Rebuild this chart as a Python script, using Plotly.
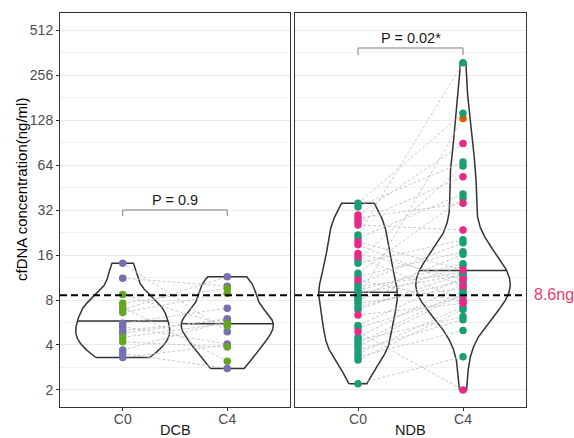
import numpy as np
import plotly.graph_objects as go

# ---- data -------------------------------------------------------------
timepoints = ["C0", "C4"]
panels = ["DCB", "NDB"]

# DCB patients: cfDNA (ng/ml) at C0 and C4, plus subgroup
dcb_c0 = [14.1, 11.2, 6.9, 5.6, 5.3, 5.0, 4.8, 3.7, 3.5, 3.3,
          8.7, 7.6, 7.2, 6.6, 4.5, 4.2]
dcb_c4 = [4.9, 9.9, 11.45, 7.04, 4.06, 5.88, 6.0, 5.8, 2.79, 4.0,
          5.35, 9.58, 3.11, 8.87, 5.59, 3.88]
dcb_grp = ["a"] * 10 + ["b"] * 6

# NDB patients
ndb_c0 = [8.2,
          35.5, 33.7, 21.8, 20.7, 14.8, 14.1, 12.1, 11.5, 10.3, 9.8,
          9.3, 8.9, 8.4, 8.0, 7.6, 7.2, 6.9, 5.4, 5.2, 4.5,
          4.3, 4.1, 3.9, 3.7, 3.5, 3.34, 3.17, 2.2,
          29.6, 28.2, 26.7, 25.4, 19.6, 18.7, 16.4, 15.6, 10.9, 6.35, 4.9]
ndb_c4 = [131,
          142, 67, 309, 41, 63, 20.2, 38.3, 16.8, 19.3, 12.2,
          14.0, 11.8, 16.2, 13.5, 9.6, 10.8, 12.0, 11.3, 8.5, 10.3,
          6.2, 9.2, 8.8, 5.9, 7.2, 5.0, 6.9, 3.34,
          89, 35.5, 53.5, 23.5, 12.7, 9.9, 11.0, 8.0, 7.8, 7.6, 2.0]
ndb_grp = ["e"] + ["c"] * 28 + ["d"] * 11

group_colors = {"a": "#7570B3", "b": "#66A61E", "c": "#1B9E77",
                "d": "#E7298A", "e": "#D95F02"}

p_labels = ["P = 0.9", "P = 0.02*"]
p_bracket = [(32, 29.2), (388, 348)]   # bracket height, tick end (ng/ml)
cutoff = 8.6
cutoff_label = "8.6ng"

y_ticks = [2, 4, 8, 16, 32, 64, 128, 256, 512]

# ---- helpers ----------------------------------------------------------
def bw_nrd0(x):
    x = np.asarray(x, float)
    sd = np.std(x, ddof=1)
    q75, q25 = np.percentile(x, [75, 25])
    lo = min(sd, (q75 - q25) / 1.34)
    if lo == 0:
        lo = sd or abs(x[0]) or 1.0
    return 0.9 * lo * len(x) ** (-0.2)


def kde(vals, n=512):
    z = np.log2(np.asarray(vals, float))
    bw = bw_nrd0(z)
    grid = np.linspace(z.min(), z.max(), n)
    d = np.exp(-0.5 * ((grid[:, None] - z[None, :]) / bw) ** 2).sum(1)
    d /= len(z) * bw * np.sqrt(2 * np.pi)
    return grid, d


fig = go.Figure()
axes = [("x", "y"), ("x2", "y2")]
datasets = [(dcb_c0, dcb_c4, dcb_grp), (ndb_c0, ndb_c4, ndb_grp)]
outline = "#333333"
width = 0.9

for (xa, ya), (c0, c4, grp) in zip(axes, datasets):
    dens = [kde(c0), kde(c4)]
    dmax = max(d.max() for _, d in dens)
    for pos, (grid, d) in zip([1, 2], dens):
        half = d / dmax * width / 2
        yy = 2 ** grid
        xs = np.concatenate([pos - half, (pos + half)[::-1], [pos - half[0]]])
        ys = np.concatenate([yy, yy[::-1], [yy[0]]])
        fig.add_trace(go.Scatter(x=xs, y=ys, mode="lines", xaxis=xa, yaxis=ya,
                                 line=dict(color=outline, width=1.5),
                                 hoverinfo="skip", showlegend=False))
        # median from the density's cumulative distribution
        cdf = np.cumsum(d) / d.sum()
        qy = np.interp(0.5, cdf, grid)
        qh = np.interp(qy, grid, half)
        fig.add_trace(go.Scatter(x=[pos - qh, pos + qh], y=[2 ** qy] * 2,
                                 mode="lines", xaxis=xa, yaxis=ya,
                                 line=dict(color=outline, width=1.5),
                                 hoverinfo="skip", showlegend=False))
    # paired patient lines
    lx, ly = [], []
    for a, b in zip(c0, c4):
        lx += [1, 2, None]
        ly += [a, b, None]
    fig.add_trace(go.Scatter(x=lx, y=ly, mode="lines", xaxis=xa, yaxis=ya,
                             line=dict(color="#BDBDBD", width=0.8, dash="3px,2px"),
                             hoverinfo="skip", showlegend=False))
    # points, subgroup by subgroup
    for g in dict.fromkeys(grp):
        idx = [i for i, gg in enumerate(grp) if gg == g]
        px = [1] * len(idx) + [2] * len(idx)
        py = [c0[i] for i in idx] + [c4[i] for i in idx]
        fig.add_trace(go.Scatter(x=px, y=py, mode="markers", xaxis=xa, yaxis=ya,
                                 marker=dict(color=group_colors[g], size=7.5,
                                             line=dict(width=0)),
                                 showlegend=False))

# ---- brackets, cutoff line, labels -----------------------------------
shapes, annots = [], []
for k, (xa, ya) in enumerate(axes):
    top, tick = p_bracket[k]
    fig.add_trace(go.Scatter(x=[1, 1, 2, 2], y=[tick, top, top, tick],
                             mode="lines", xaxis=xa, yaxis=ya,
                             line=dict(color="#7F7F7F", width=1),
                             hoverinfo="skip", showlegend=False))
    annots.append(dict(x=1.5, y=np.log10(top), xref=xa, yref=ya,
                       text=p_labels[k], showarrow=False, yanchor="bottom",
                       yshift=0, font=dict(size=14.5, color="#1A1A1A")))
    shapes.append(dict(type="line", xref=f"{xa} domain", yref=ya,
                       x0=0, x1=1, y0=cutoff, y1=cutoff,
                       line=dict(color="black", width=2, dash="7px,4px")))
    annots.append(dict(x=0.5, y=0, xref=f"{xa} domain", yref="paper",
                       text=panels[k], showarrow=False, yanchor="middle",
                       xanchor="center", yshift=-23,
                       font=dict(size=14.5, color="#1A1A1A")))

annots.append(dict(x=1, y=np.log10(cutoff), xref="paper", yref="y",
                   text=cutoff_label, showarrow=False, xanchor="left",
                   xshift=6, yshift=1, font=dict(size=16, color="#F2386C")))
annots.append(dict(x=0, y=(407 - 190) / 394, xref="paper", yref="paper",
                   text="cfDNA concentration(ng/ml)", showarrow=False,
                   textangle=-90, xanchor="center", yanchor="middle",
                   xshift=-38, font=dict(size=15, color="black")))

y_range = [np.log10(2 ** 0.622), np.log10(2 ** 9.378)]
minor_vals = [2 ** (k + 0.5) for k in range(0, 10)]

axis_common = dict(showline=True, mirror=True, linecolor=outline, linewidth=1,
                   zeroline=False, automargin=False)
yaxis_common = dict(type="log", range=y_range, tickvals=y_ticks,
                    ticktext=[str(v) for v in y_ticks],
                    showgrid=True, gridcolor="#EBEBEB", gridwidth=1.2,
                    minor=dict(tickvals=minor_vals, showgrid=True,
                               gridcolor="#F0F0F0", gridwidth=0.8, ticks=""),
                    **axis_common)
xaxis_common = dict(range=[0.4, 2.6], tickvals=[1, 2], ticktext=timepoints,
                    showgrid=False, ticks="outside", ticklen=3,
                    ticklabelstandoff=-4,
                    tickcolor=outline, tickfont=dict(size=14, color="#4D4D4D"),
                    **axis_common)

fig.update_layout(
    width=574, height=438,
    margin=dict(l=60, r=48, t=13, b=31, autoexpand=False),
    paper_bgcolor="white", plot_bgcolor="white",
    font=dict(family="Liberation Sans, Arial, sans-serif"),
    xaxis=dict(domain=[0, 230 / 466], anchor="y", **xaxis_common),
    xaxis2=dict(domain=[235 / 466, 1], anchor="y2", **xaxis_common),
    yaxis=dict(anchor="x", ticks="outside", ticklen=3, tickcolor=outline,
               tickfont=dict(size=14, color="#4D4D4D"), **yaxis_common),
    yaxis2=dict(anchor="x2", matches="y", showticklabels=False, ticks="",
                **yaxis_common),
    shapes=shapes, annotations=annots,
)

fig.write_html("out.html")
